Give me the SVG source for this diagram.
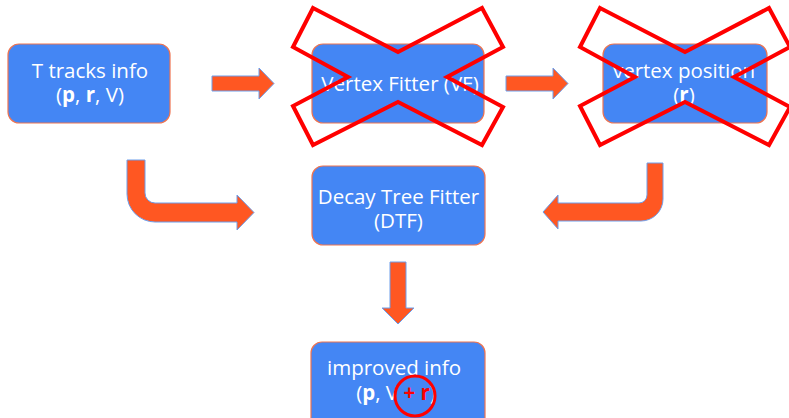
<svg xmlns="http://www.w3.org/2000/svg" width="789" height="418" viewBox="0 0 789 418">
<style>
.box{fill:#4486F4;stroke:#EE7451;stroke-width:1.2}
.t{font-family:"Open Sans","Liberation Sans",sans-serif;font-size:20.5px;fill:#FFFFFF;text-anchor:middle}
.b{font-weight:bold}
.arr{fill:#FF5722;stroke:#6D9EEB;stroke-width:1}
.x{fill:none;stroke:#FF0000;stroke-width:4;stroke-linejoin:miter}
</style>
<rect width="789" height="418" fill="#FFFFFF"/>
<g id="connectors">
<path class="arr" d="M212,76 H259 V68 L274,83.5 L259,99 V91 H212 Z"/>
<path class="arr" d="M506,76 H553 V68 L568,83.5 L553,99 V91 H506 Z"/>
<path class="arr" d="M127,160 H145 V193 A10,10 0 0 0 155,203 H237 V195 L254,212.5 L237,230 V222 H155 A28,28 0 0 1 127,194 Z"/>
<path class="arr" d="M647,163 H663 V199 A22,22 0 0 1 641,221 H558 V229 L543,212 L558,195 V203 H639 A8,8 0 0 0 647,195 Z"/>
<path class="arr" d="M390,262 H406 V308 H414 L398,324 L382,308 H390 Z"/>
</g>
<g id="tracks">
<rect class="box" x="8" y="44" width="162" height="79" rx="11"/>
<text class="t" x="90" y="78">T tracks info</text>
<text class="t" x="90" y="102">(<tspan class="b">p</tspan>, <tspan class="b">r</tspan>, V)</text>
</g>
<g id="vf">
<rect class="box" x="312" y="44" width="172" height="79" rx="11"/>
<text class="t" x="400" y="91">Vertex Fitter (VF)</text>
</g>
<g id="vpos">
<rect class="box" x="603" y="44" width="164" height="79" rx="11"/>
<text class="t" x="684" y="78">vertex position</text>
<text class="t" x="684" y="102">(<tspan class="b">r</tspan>)</text>
</g>
<g id="dtf">
<rect class="box" x="312" y="166" width="173" height="79" rx="11"/>
<text class="t" x="398.5" y="204">Decay Tree Fitter</text>
<text class="t" x="398.5" y="228">(DTF)</text>
</g>
<g id="improved">
<rect class="box" x="311" y="342" width="174" height="90" rx="11"/>
<text class="t" x="394" y="375">improved info</text>
<text class="t" x="396" y="400">(<tspan class="b">p</tspan>, V <tspan class="b" fill="#FF0000">+ r</tspan>)</text>
<circle cx="415" cy="396" r="20" fill="none" stroke="#FF0000" stroke-width="3"/>
</g>
<g id="crosses">
<polygon class="x" points="313,8 398,52 482,8 503,47 447,77 503,107 482,145 398,102 313,145 293,106 348,77 293,47"/>
<polygon class="x" points="600,8 685,52 769,8 790,47 734,77 790,107 769,145 685,102 600,145 580,106 635,77 580,47"/>
</g>
</svg>
